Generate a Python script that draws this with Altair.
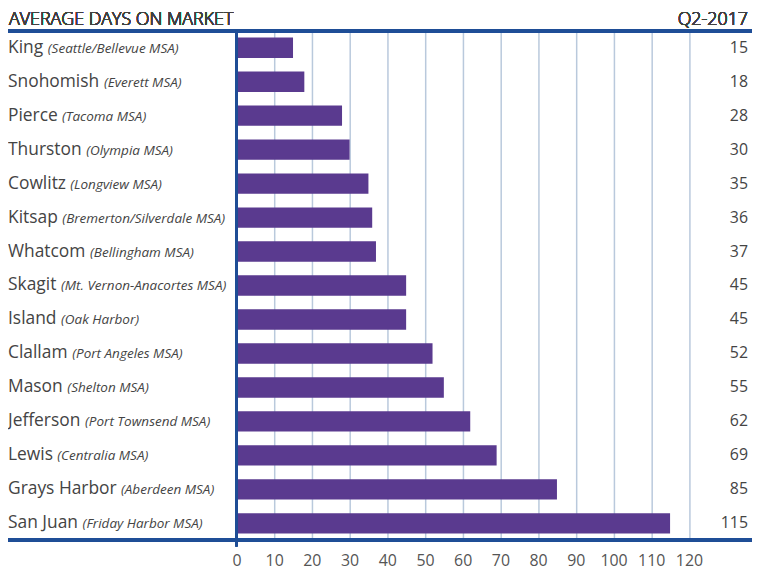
import glob
import altair as alt
import pandas as pd

names = ["King", "Snohomish", "Pierce", "Thurston", "Cowlitz", "Kitsap", "Whatcom",
         "Skagit", "Island", "Clallam", "Mason", "Jefferson", "Lewis", "Grays Harbor", "San Juan"]
areas = ["(Seattle/Bellevue MSA)", "(Everett MSA)", "(Tacoma MSA)", "(Olympia MSA)",
         "(Longview MSA)", "(Bremerton/Silverdale MSA)", "(Bellingham MSA)",
         "(Mt. Vernon-Anacortes MSA)", "(Oak Harbor)", "(Port Angeles MSA)", "(Shelton MSA)",
         "(Port Townsend MSA)", "(Centralia MSA)", "(Aberdeen MSA)", "(Friday Harbor MSA)"]
days = [15, 18, 28, 30, 35, 36, 37, 45, 45, 52, 55, 62, 69, 85, 115]
ticks = [0, 10, 20, 30, 40, 50, 60, 70, 80, 90, 100, 110, 120]

NAME_SIZE = 17.5
AREA_SIZE = 13.6


def text_width(s, size):
    try:
        from PIL import ImageFont
        paths = glob.glob("/usr/share/fonts/**/OpenSans-Regular.ttf", recursive=True)
        if not paths:
            paths = glob.glob("/usr/share/fonts/**/OpenSans*.ttf", recursive=True)
        f = ImageFont.truetype(paths[0], size)
        return f.getlength(s)
    except Exception:
        return len(s) * size * 0.56


df = pd.DataFrame({"name": names, "area": areas, "days": days})
df["offset"] = [text_width(n + " ", NAME_SIZE) for n in names]

W, H = 519, 513
LEFT = 230
XMAX = W / ((693.5 - 238) / 120)

xscale = alt.Scale(domain=[0, XMAX], nice=False, zero=True)
yscale = alt.Scale(domain=names, paddingInner=0.4, paddingOuter=0.2)

base = alt.Chart(df)

bars = base.mark_bar(color="#5a3a8f").encode(
    x=alt.X("days:Q", scale=xscale,
            axis=alt.Axis(values=ticks, title=None, grid=True, gridColor="#b9c9dc",
                          gridWidth=1.5, domain=False, ticks=False, labelPadding=12,
                          labelFontSize=16, labelColor="#555555", labelFont="Open Sans",
                          labelFlush=False)),
    y=alt.Y("name:N", scale=yscale, axis=None, sort=names),
)

vals = base.mark_text(align="right", baseline="middle", fontSize=16, font="Open Sans",
                      color="#444444").encode(
    x=alt.value(W - 4),
    y=alt.Y("name:N", scale=yscale, sort=names),
    text="days:Q",
)

lbl_name = base.mark_text(align="left", baseline="middle", fontSize=NAME_SIZE,
                          font="Open Sans", color="#444444").encode(
    x=alt.value(-LEFT),
    y=alt.Y("name:N", scale=yscale, sort=names),
    text="name:N",
)

lbl_area = base.transform_calculate(px="datum.offset - %d" % LEFT).mark_text(
    align="left", baseline="middle", fontSize=AREA_SIZE, font="Open Sans",
    fontStyle="italic", color="#444444", dy=1).encode(
    x=alt.X("px:Q", scale=None),
    y=alt.Y("name:N", scale=yscale, sort=names),
    text="area:N",
)

line_col = "#1f4e96"
top_rule = base.mark_rule(color=line_col, strokeWidth=3).encode(
    x=alt.value(-LEFT), x2=alt.value(W), y=alt.value(0))
bot_rule = base.mark_rule(color=line_col, strokeWidth=3).encode(
    x=alt.value(-LEFT), x2=alt.value(W), y=alt.value(H))
v_rule = base.mark_rule(color=line_col, strokeWidth=2).encode(
    x=alt.value(0), y=alt.value(0), y2=alt.value(H + 6))

title = base.mark_text(align="left", baseline="middle", fontSize=18, font="Open Sans",
                       fontWeight=300, color="#404040").encode(
    x=alt.value(-LEFT + 1), y=alt.value(-11), text=alt.value("AVERAGE DAYS ON MARKET"))
period = base.mark_text(align="right", baseline="middle", fontSize=18, font="Open Sans",
                        fontWeight=300, color="#404040").encode(
    x=alt.value(W - 4), y=alt.value(-11), text=alt.value("Q2-2017"))

chart = alt.layer(bars, vals, lbl_name, lbl_area, top_rule, bot_rule, v_rule,
                  title, period).properties(
    width=W, height=H,
    autosize=alt.AutoSizeParams(type="none"),
    padding={"left": 230, "top": 21, "right": 0, "bottom": 30},
).configure_view(stroke=None).configure(background="white")

chart.save("out.html", embed_options={"renderer": "svg", "actions": False})
